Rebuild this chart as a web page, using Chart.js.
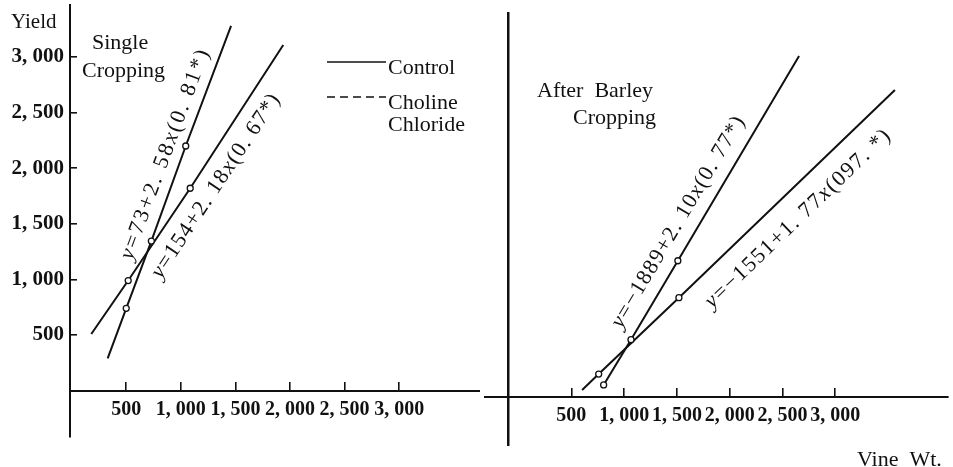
<!DOCTYPE html>
<html>
<head>
<meta charset="utf-8">
<script src="https://cdn.jsdelivr.net/npm/chart.js@4.4.1/dist/chart.umd.min.js"></script>
<style>
  html, body { margin: 0; padding: 0; background: #fff; }
  #wrap { position: relative; width: 953px; height: 467px; overflow: hidden; }
  #cLeft { position: absolute; left: 0; top: 0; }
  #cRight { position: absolute; left: 480px; top: 0; }
</style>
</head>
<body>
<div id="wrap">
  <canvas id="cLeft" width="480" height="467"></canvas>
  <canvas id="cRight" width="473" height="467"></canvas>
</div>
<script>
// tick values and labels (both panels share the Vine Wt. scale)
var xTicks = [500, 1000, 1500, 2000, 2500, 3000];
var xTickLabels = ["500", "1, 000", "1, 500", "2, 000", "2, 500", "3, 000"];
var yTicks = [500, 1000, 1500, 2000, 2500, 3000];
var yTickLabels = ["500", "1, 000", "1, 500", "2, 000", "2, 500", "3, 000"];

// Single Cropping: steep line and flatter line, 1 = drawn with a small circle
var singleSteepX = [330, 500, 730, 1045, 1460];
var singleSteepY = [290, 740, 1345, 2200, 3280];
var singleSteepMark = [0, 1, 1, 1, 0];
var singleFlatX = [180, 518, 1086, 1938];
var singleFlatY = [509, 990, 1820, 3108];
var singleFlatMark = [0, 1, 1, 0];

// After Barley Cropping
var barleySteepX = [806, 1065, 1509, 2657];
var barleySteepY = [108, 515, 1225, 3067];
var barleySteepMark = [1, 1, 1, 0];
var barleyFlatX = [602, 759, 1519, 3565];
var barleyFlatY = [63, 206, 893, 2761];
var barleyFlatMark = [0, 1, 1, 0];

var singleEq = ["y=73+2. 58x(0. 81*)", "y=154+2. 18x(0. 67*)"];
var barleyEq = ["y=\u22121889+2. 10x(0. 77*)", "y=\u22121551+1. 77x(097. *)"];

var INK = "#111";
var SERIF = '"Liberation Serif", "DejaVu Serif", serif';

function pts(xs, ys) {
	return xs.map(function(x, i){ return {x: x, y: ys[i]}; });
}

function lineSet(label, xs, ys, marks) {
	return {
		label: label,
		data: pts(xs, ys),
		showLine: true,
		borderColor: INK,
		borderWidth: 2,
		pointRadius: marks.map(function(m){ return m ? 3 : 0; }),
		pointBackgroundColor: "#fff",
		pointBorderColor: INK,
		pointBorderWidth: 1.3
	};
}

function flatPad(s) {
	s.paddingTop = 0; s.paddingBottom = 0; s.paddingLeft = 0; s.paddingRight = 0;
}

function setTicks(values) {
	return function(s){ s.ticks = values.map(function(v){ return {value: v}; }); };
}

// equation written along a fitted line, x and y in italics
function drawEquation(chart, dsIndex, text, along, offset, length) {
	var p = chart.getDatasetMeta(dsIndex).data;
	var a = p[0], b = p[p.length - 1];
	var dx = b.x - a.x, dy = b.y - a.y, len = Math.hypot(dx, dy);
	var ctx = chart.ctx;
	ctx.save();
	ctx.translate(a.x + dx / len * along, a.y + dy / len * along);
	ctx.rotate(Math.atan2(dy, dx));
	ctx.fillStyle = INK;
	ctx.textBaseline = "middle";
	ctx.textAlign = "left";
	var chars = text.split("");
	var fonts = chars.map(function(c){ return (c == "x" || c == "y") ? "italic 22px " + SERIF : "22px " + SERIF; });
	var widths = chars.map(function(c, i){ ctx.font = fonts[i]; return ctx.measureText(c).width; });
	var natural = widths.reduce(function(s, w){ return s + w; }, 0);
	var gap = (length - natural) / (chars.length - 1);
	var pos = 0;
	chars.forEach(function(c, i){
		ctx.font = fonts[i];
		ctx.fillText(c, pos, offset);
		pos += widths[i] + gap;
	});
	ctx.restore();
}

function text(ctx, str, x, y, size) {
	ctx.font = (size || 22) + "px " + SERIF;
	ctx.fillStyle = INK;
	ctx.textAlign = "left";
	ctx.textBaseline = "alphabetic";
	ctx.fillText(str, x, y);
}

var leftText = {
	id: "leftText",
	afterDraw: function(chart){
		var ctx = chart.ctx;
		text(ctx, "Yield", 11, 28, 21);
		text(ctx, "Single", 92, 49);
		text(ctx, "Cropping", 82, 77);
		ctx.save();
		ctx.strokeStyle = INK;
		ctx.lineWidth = 1.6;
		ctx.beginPath(); ctx.moveTo(327, 62); ctx.lineTo(386, 62); ctx.stroke();
		ctx.setLineDash([8, 5]);
		ctx.beginPath(); ctx.moveTo(327, 97); ctx.lineTo(386, 97); ctx.stroke();
		ctx.restore();
		text(ctx, "Control", 388, 74);
		text(ctx, "Choline", 388, 109);
		text(ctx, "Chloride", 388, 131);
		drawEquation(chart, 0, singleEq[0], 100, -17, 222);
		drawEquation(chart, 1, singleEq[1], 84, 22, 216);
	}
};

var rightText = {
	id: "rightText",
	afterDraw: function(chart){
		var ctx = chart.ctx;
		text(ctx, "After  Barley", 57, 97);
		text(ctx, "Cropping", 93, 124);
		text(ctx, "Vine  Wt.", 377, 466);
		drawEquation(chart, 0, barleyEq[0], 57, -19, 242);
		drawEquation(chart, 1, barleyEq[1], 150, 26, 248);
	}
};

function xAxis(min, max) {
	return {
		type: "linear",
		position: {y: 0},
		min: min, max: max,
		afterBuildTicks: setTicks(xTicks),
		afterFit: flatPad,
		border: {display: true, color: INK, width: 2},
		grid: {display: true, drawOnChartArea: false, drawTicks: true, tickLength: -10, color: INK, lineWidth: 1.6},
		ticks: {
			autoSkip: false, maxRotation: 0, minRotation: 0, padding: 17, color: INK,
			font: {family: SERIF, size: 20, weight: "bold"},
			callback: function(v, i){ return xTickLabels[i]; }
		}
	};
}

new Chart(document.getElementById("cLeft").getContext("2d"), {
	type: "scatter",
	data: {
		datasets: [
			lineSet("Single cropping, y=73+2.58x", singleSteepX, singleSteepY, singleSteepMark),
			lineSet("Single cropping, y=154+2.18x", singleFlatX, singleFlatY, singleFlatMark)
		]
	},
	options: {
		responsive: false,
		animation: false,
		layout: {padding: {top: 5, bottom: 30, left: 0, right: 0}},
		plugins: {legend: {display: false}, tooltip: {enabled: false}},
		scales: {
			x: xAxis(-15, 3740),
			y: {
				type: "linear",
				position: "left",
				min: -417, max: 3468,
				afterBuildTicks: setTicks(yTicks),
				afterFit: function(s){ flatPad(s); s.width = 70; },
				border: {display: true, color: INK, width: 2},
				grid: {display: true, drawOnChartArea: false, drawTicks: true, tickLength: -7, color: INK, lineWidth: 1.6},
				ticks: {
					autoSkip: false, padding: 13, color: INK,
					font: {family: SERIF, size: 21, weight: "bold"},
					callback: function(v, i){ return yTickLabels[i]; }
				}
			}
		}
	},
	plugins: [leftText]
});

new Chart(document.getElementById("cRight").getContext("2d"), {
	type: "scatter",
	data: {
		datasets: [
			lineSet("After barley, y=-1889+2.10x", barleySteepX, barleySteepY, barleySteepMark),
			lineSet("After barley, y=-1551+1.77x", barleyFlatX, barleyFlatY, barleyFlatMark)
		]
	},
	options: {
		responsive: false,
		animation: false,
		layout: {padding: {top: 13, bottom: 22, left: 0, right: 0}},
		plugins: {legend: {display: false}, tooltip: {enabled: false}},
		scales: {
			x: xAxis(-315, 4065),
			y: {
				type: "linear",
				position: {x: -93},
				min: -432, max: 3453,
				afterFit: flatPad,
				border: {display: true, color: INK, width: 2.5},
				grid: {display: false},
				ticks: {display: false}
			}
		}
	},
	plugins: [rightText]
});
</script>
</body>
</html>
